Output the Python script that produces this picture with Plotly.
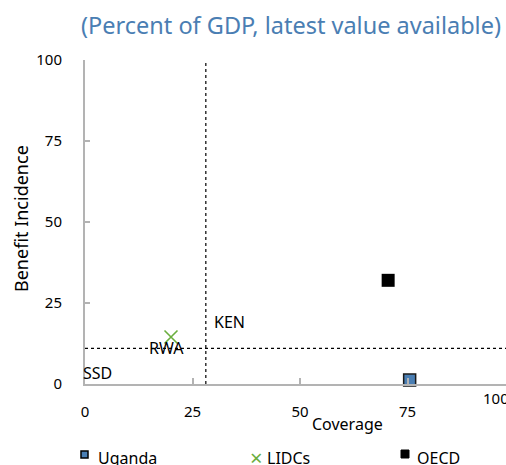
import plotly.graph_objects as go

# Data
uganda_x, uganda_y = [75.5], [1.2]
lidcs_x, lidcs_y = [20.0], [14.5]
oecd_x, oecd_y = [70.5], [32.0]
ref_x = 28.1   # vertical dotted reference line (coverage)
ref_y = 11.0   # horizontal dotted reference line (benefit incidence)
country_labels = ["KEN", "RWA", "SSD"]
country_x = [33.7, 19.0, 3.0]
country_y = [19.1, 11.0, 3.3]
x_ticks = [0, 25, 50, 75]
y_ticks = [0, 25, 50, 75, 100]

FONT = "Noto Sans"
BLUE = "#4A7EB3"
GREEN = "#6AAE3E"
AXIS = "#B3B3B3"

W, H = 506, 465
L = 85
T = 60
B = H - 384
R = 0
pw, ph = W - L - R, H - T - B
XMAX = (W - L) / 4.3


def px(X):
    return (X - L) / pw


def py(Y):
    return (H - Y - B) / ph


fig = go.Figure()
fig.add_trace(go.Scatter(x=uganda_x, y=uganda_y, mode="markers", name="Uganda", cliponaxis=False,
                         marker=dict(symbol="square", size=12, color=BLUE,
                                     line=dict(color="#1a1a1a", width=1.5))))
fig.add_trace(go.Scatter(x=lidcs_x, y=lidcs_y, mode="markers", name="LIDCs", cliponaxis=False,
                         marker=dict(symbol="x-thin", size=13, color=GREEN,
                                     line=dict(color=GREEN, width=1.6))))
fig.add_trace(go.Scatter(x=oecd_x, y=oecd_y, mode="markers", name="OECD", cliponaxis=False,
                         marker=dict(symbol="square", size=13, color="black")))

# dotted reference lines
fig.add_shape(type="line", x0=ref_x, x1=ref_x, y0=0, y1=100, xref="x", yref="y",
              line=dict(color="black", width=1.2, dash="dot"))
fig.add_shape(type="line", x0=0, x1=1, y0=ref_y, y1=ref_y, xref="paper", yref="y",
              line=dict(color="black", width=1.2, dash="dot"))

for t, x, y in zip(country_labels, country_x, country_y):
    fig.add_annotation(x=x, y=y, text=t, showarrow=False, xref="x", yref="y",
                       font=dict(family=FONT, size=16, color="black"))


def ann(X, Y, text, size=16, color="black", xanchor="center", **kw):
    fig.add_annotation(x=px(X), y=py(Y), xref="paper", yref="paper", text=text,
                       showarrow=False, xanchor=xanchor, yanchor="middle",
                       font=dict(family=FONT, size=size, color=color), **kw)


# x tick "100" (staggered, partly cut)
ann(481, 398, "100", size=15, xanchor="left")
# axis titles
ann(347, 424, "Coverage", size=16)
ann(21, 219, "Benefit Incidence", size=18, textangle=-90)
# title
ann(291, 25, "(Percent of GDP, latest value available)", size=23.5, color=BLUE)

# legend (manual)
fig.add_shape(type="rect", x0=px(81), x1=px(88), y0=py(451), y1=py(458), xref="paper", yref="paper",
              line=dict(color="black", width=1.5), fillcolor=BLUE)
ann(96, 458, "Uganda", xanchor="left")
ann(256, 457, "×", size=22, color=GREEN)
ann(265, 458, "LIDCs", xanchor="left")
fig.add_shape(type="rect", x0=px(401), x1=px(409), y0=py(450), y1=py(458), xref="paper", yref="paper",
              line=dict(color="black", width=1), fillcolor="black")
ann(415, 458, "OECD", xanchor="left")

fig.update_layout(
    width=W, height=H, margin=dict(l=L, r=R, t=T, b=B, pad=0),
    plot_bgcolor="white", paper_bgcolor="white", showlegend=False,
    font=dict(family=FONT, size=15, color="black"),
)
fig.update_xaxes(range=[0, XMAX], tickvals=x_ticks, ticktext=[str(v) for v in x_ticks],
                 showgrid=False, zeroline=False, showline=True, linecolor=AXIS, linewidth=2,
                 ticks="inside", ticklen=6, tickcolor=AXIS, tickwidth=1.5,
                 ticklabelstandoff=13, tickfont=dict(family=FONT, size=15))
fig.update_yaxes(range=[0, 100], tickvals=y_ticks, showgrid=False, zeroline=False,
                 showline=True, linecolor=AXIS, linewidth=2,
                 ticks="inside", ticklen=5, tickcolor=AXIS, tickwidth=1.5,
                 ticklabelstandoff=18, tickfont=dict(family=FONT, size=15))
fig.write_html("out.html", config={"displayModeBar": False},
               post_script="document.body.style.margin='0';document.body.style.overflow='hidden';")
